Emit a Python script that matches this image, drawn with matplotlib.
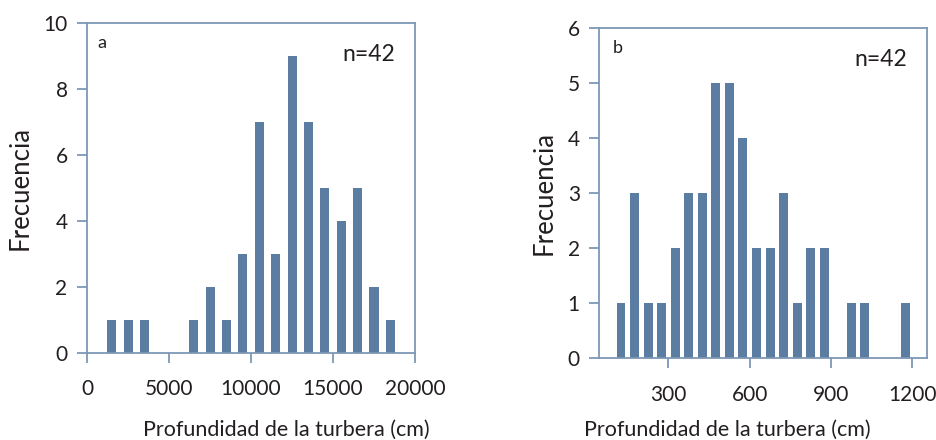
import numpy as np
import matplotlib
matplotlib.use("Agg")
import matplotlib.pyplot as plt

plt.rcParams['font.family'] = ['Lato', 'DejaVu Sans']

# Panel a: depth bins (cm) and counts
depth_a = [1500, 2500, 3500, 4500, 5500, 6500, 7500, 8500, 9500, 10500,
           11500, 12500, 13500, 14500, 15500, 16500, 17500, 18500]
freq_a = [1, 1, 1, 0, 0, 1, 2, 1, 3, 7, 3, 9, 7, 5, 4, 5, 2, 1]

# Panel b
depth_b = [125, 175, 225, 275, 325, 375, 425, 475, 525, 575, 625, 675,
           725, 775, 825, 875, 925, 975, 1025, 1075, 1125, 1175]
freq_b = [1, 3, 1, 1, 2, 3, 3, 5, 5, 4, 2, 2, 3, 1, 2, 2, 0, 1, 1, 0, 0, 1]

xticks_a = [0, 5000, 10000, 15000, 20000]
xticks_b = [300, 600, 900, 1200]

bar_color = "#5b7da1"
spine_color = "#7d97b6"
text_color = "#231f20"

fig = plt.figure(figsize=(9.37, 4.4), dpi=100)
ax1 = fig.add_axes([0.0929, 0.1984, 0.350, 0.75])
ax2 = fig.add_axes([0.6396, 0.1857, 0.3494, 0.75])


def style(ax):
    for s in ax.spines.values():
        s.set_color(spine_color)
        s.set_linewidth(1.3)
    ax.tick_params(direction='out', length=7, width=1.3, color=spine_color,
                   labelsize=15, labelcolor=text_color)
    ax.tick_params(axis='x', pad=12)
    ax.tick_params(axis='y', pad=7)


ax1.bar(depth_a, freq_a, width=550, color=bar_color)
ax1.set_xlim(0, 20000)
ax1.set_ylim(0, 10)
ax1.set_xticks(xticks_a)
ax1.set_yticks(range(0, 11, 2))
style(ax1)
ax1.set_ylabel("Frecuencia", fontsize=18.5, color=text_color, labelpad=8)
ax1.text(0.03, 0.94, "a", transform=ax1.transAxes, fontsize=13, color=text_color, va='center')
ax1.text(0.94, 0.905, "n=42", transform=ax1.transAxes, fontsize=16.5, color=text_color,
         ha='right', va='center')

ax2.bar(depth_b, freq_b, width=33, color=bar_color)
ax2.set_xlim(45, 1253)
ax2.set_ylim(0, 6)
ax2.set_xticks(xticks_b)
ax2.set_yticks(range(0, 7))
style(ax2)
ax2.set_ylabel("Frecuencia", fontsize=18.5, color=text_color, labelpad=8)
ax2.text(0.04, 0.94, "b", transform=ax2.transAxes, fontsize=13, color=text_color, va='center')
ax2.text(0.94, 0.905, "n=42", transform=ax2.transAxes, fontsize=16.5, color=text_color,
         ha='right', va='center')

# x labels sit on the same line for both panels
fig.text(286 / 937, 1 - 430 / 440, "Profundidad de la turbera (cm)", fontsize=15.5,
         color=text_color, ha='center', va='center')
fig.text(727 / 937, 1 - 430 / 440, "Profundidad de la turbera (cm)", fontsize=15.5,
         color=text_color, ha='center', va='center')

fig.savefig("out.png", dpi=100)
